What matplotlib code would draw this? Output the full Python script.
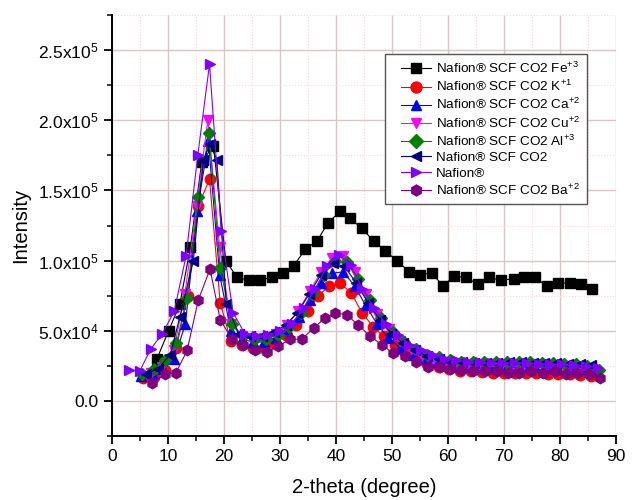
#!/usr/bin/env python3
"""XRD patterns of Nafion membranes after supercritical CO2 ion loading."""

import matplotlib
matplotlib.use("Agg")
import matplotlib.pyplot as plt
from matplotlib.lines import Line2D
from matplotlib.legend_handler import HandlerLine2D
from matplotlib.ticker import MultipleLocator, FuncFormatter

# --- data (intensity in units of 1e4) ---
x_fe = [8.0, 10.1, 12.1, 14.0, 16.0, 18.1, 20.3, 22.3, 24.4, 26.4, 28.5, 30.6,
        32.4, 34.5, 36.6, 38.6, 40.7, 42.5, 44.6, 46.7, 48.8, 50.8, 53.1, 55.0,
        57.1, 59.1, 61.1, 63.2, 65.4, 67.4, 69.4, 71.7, 73.6, 75.5, 77.6, 79.7,
        81.8, 83.7, 85.7]
y_fe = [3.0, 5.0, 6.9, 11.0, 17.0, 18.2, 10.0, 8.8, 8.6, 8.6, 8.8, 9.1,
        9.6, 10.8, 11.4, 12.7, 13.5, 13.0, 12.3, 11.4, 10.7, 10.0, 9.2, 9.0,
        9.1, 8.2, 8.9, 8.8, 8.3, 8.8, 8.6, 8.7, 8.8, 8.8, 8.2, 8.4,
        8.4, 8.3, 8.0]

x_k = [5.6, 7.5, 9.5, 11.5, 13.5, 15.4, 17.4, 19.3, 21.2, 23.2, 25.1, 27.1,
       29.0, 31.0, 32.9, 34.9, 36.8, 38.8, 40.7, 42.7, 44.6, 46.6, 48.5, 50.5,
       52.4, 54.4, 56.3, 58.3, 60.2, 62.2, 64.1, 66.1, 68.0, 70.0, 71.9, 73.9,
       75.8, 77.8, 79.7, 81.7, 83.6, 85.6]
y_k = [1.6, 1.7, 2.2, 3.8, 7.5, 13.9, 15.8, 7.0, 4.3, 4.0, 3.8, 3.8,
       4.1, 4.7, 5.4, 6.4, 7.5, 8.2, 8.4, 7.7, 6.3, 5.3, 4.6, 4.0,
       3.4, 3.0, 2.6, 2.4, 2.25, 2.15, 2.1, 2.05, 2.0, 2.0, 2.0, 2.0,
       2.0, 1.95, 1.9, 1.9, 1.85, 1.75]

x_ca = [5.1, 7.1, 9.1, 11.1, 13.1, 15.2, 17.2, 19.2, 21.2, 23.2, 25.2, 27.2,
        29.2, 31.2, 33.3, 35.3, 37.3, 39.3, 41.3, 43.3, 45.3, 47.3, 49.3, 51.4,
        53.4, 55.4, 57.4, 59.4, 61.4, 63.4, 65.5, 67.5, 69.5, 71.5, 73.5, 75.5,
        77.5, 79.6, 81.6, 83.6, 85.6]
y_ca = [1.8, 2.0, 2.3, 3.0, 5.5, 13.5, 18.5, 9.0, 5.0, 4.4, 4.2, 4.2,
        4.5, 5.1, 6.0, 7.2, 8.4, 9.1, 9.2, 8.2, 6.8, 5.5, 4.5, 3.8,
        3.3, 3.0, 2.8, 2.6, 2.5, 2.5, 2.45, 2.4, 2.4, 2.4, 2.4, 2.4,
        2.35, 2.3, 2.3, 2.3, 2.2]

x_cu = [7.0, 9.0, 11.0, 13.0, 15.1, 17.1, 19.2, 21.2, 23.2, 25.2, 27.2, 29.2,
        31.2, 33.2, 35.3, 37.3, 39.3, 41.3, 43.3, 45.3, 47.4, 49.4, 51.4, 53.4,
        55.4, 57.4, 59.5, 61.5, 63.5, 65.5, 67.5, 69.6, 71.6, 73.6, 75.6, 77.6,
        79.7, 81.7, 83.7, 85.7]
y_cu = [2.0, 2.4, 3.6, 7.6, 13.9, 20.0, 11.0, 5.5, 4.6, 4.4, 4.5, 4.8,
        5.4, 6.4, 7.8, 9.2, 10.2, 10.3, 9.2, 7.6, 6.2, 5.1, 4.3, 3.7,
        3.3, 3.0, 2.8, 2.7, 2.65, 2.6, 2.6, 2.6, 2.6, 2.6, 2.6, 2.55,
        2.5, 2.5, 2.45, 2.3]

x_al = [5.3, 7.4, 9.4, 11.5, 13.3, 15.4, 17.3, 19.3, 21.4, 23.4, 25.5, 27.5,
        29.6, 31.6, 33.7, 35.7, 37.8, 39.8, 41.9, 43.9, 46.0, 48.0, 50.1, 52.1,
        54.2, 56.2, 58.3, 60.3, 62.4, 64.4, 66.5, 68.5, 70.6, 72.6, 74.7, 76.7,
        78.8, 80.8, 82.9, 84.9, 87.0]
y_al = [1.9, 2.3, 2.9, 4.1, 7.3, 14.5, 19.1, 9.5, 5.5, 4.6, 4.4, 4.4,
        4.7, 5.3, 6.3, 7.6, 9.0, 10.0, 9.9, 8.7, 7.2, 5.9, 4.9, 4.2,
        3.7, 3.3, 3.1, 2.9, 2.8, 2.8, 2.75, 2.75, 2.8, 2.75, 2.75, 2.7,
        2.7, 2.65, 2.6, 2.5, 2.2]

x_scf = [6.0, 8.2, 10.4, 12.1, 14.5, 16.3, 17.5, 18.7, 20.4, 22.6, 24.7, 26.8,
         28.9, 31.0, 33.1, 35.2, 37.3, 39.4, 41.5, 43.6, 45.7, 47.8, 49.9, 52.0,
         54.1, 56.2, 58.3, 60.4, 62.5, 64.6, 66.7, 68.8, 70.9, 73.0, 75.1, 77.2,
         79.3, 81.4, 83.5, 85.6]
y_scf = [1.9, 2.3, 3.3, 6.0, 9.95, 17.2, 18.3, 17.2, 6.9, 4.8, 4.6, 4.6,
         4.9, 5.4, 6.3, 7.6, 9.0, 9.8, 9.6, 8.4, 7.0, 5.8, 4.8, 4.1,
         3.6, 3.2, 3.0, 2.8, 2.75, 2.7, 2.7, 2.7, 2.75, 2.75, 2.7, 2.7,
         2.7, 2.65, 2.6, 2.55]

x_naf = [3.0, 4.9, 6.9, 9.0, 11.1, 13.2, 15.3, 17.4, 19.5, 21.6, 23.7, 25.8,
         27.9, 30.0, 32.1, 34.2, 36.3, 38.4, 40.5, 42.6, 44.7, 46.8, 48.9, 51.0,
         53.1, 55.2, 57.3, 59.4, 61.5, 63.6, 65.7, 67.8, 69.9, 72.0, 74.1, 76.2,
         78.3, 80.4, 82.5, 84.6, 86.7]
y_naf = [2.2, 2.1, 3.7, 4.8, 6.4, 10.3, 17.5, 24.0, 12.1, 6.3, 4.8, 4.6,
         4.7, 5.0, 5.5, 6.6, 8.0, 9.6, 10.4, 9.7, 8.0, 6.6, 5.5, 4.7,
         4.0, 3.6, 3.3, 3.0, 2.9, 2.8, 2.75, 2.7, 2.7, 2.7, 2.7, 2.65,
         2.6, 2.6, 2.55, 2.5, 2.35]

x_ba = [7.1, 9.5, 11.4, 13.4, 15.4, 17.5, 19.3, 21.4, 23.4, 25.5, 27.6, 29.7,
        31.8, 33.9, 36.0, 38.0, 39.9, 42.0, 44.0, 46.1, 48.2, 50.2, 52.3, 54.3,
        56.5, 58.5, 60.4, 62.4, 64.5, 66.6, 68.7, 70.8, 72.7, 74.9, 77.0, 79.1,
        81.1, 83.0, 85.1, 87.1]
y_ba = [1.3, 1.9, 2.0, 3.6, 7.2, 9.4, 5.8, 4.4, 4.0, 3.6, 3.5, 3.9,
        4.4, 4.4, 5.2, 5.9, 6.3, 6.1, 5.4, 4.6, 4.0, 3.4, 3.2, 2.8,
        2.4, 2.4, 2.3, 2.2, 2.1, 2.1, 2.1, 2.0, 2.0, 2.1, 2.0, 2.1,
        1.9, 2.0, 1.95, 1.6]

labels = [
    r"Nafion® SCF CO2 Fe$^{+3}$",
    r"Nafion® SCF CO2 K$^{+1}$",
    r"Nafion® SCF CO2 Ca$^{+2}$",
    r"Nafion® SCF CO2 Cu$^{+2}$",
    r"Nafion® SCF CO2 Al$^{+3}$",
    "Nafion® SCF CO2",
    "Nafion®",
    r"Nafion® SCF CO2 Ba$^{+2}$",
]

plt.rcParams["font.family"] = ["Liberation Sans", "DejaVu Sans"]
plt.rcParams["mathtext.fontset"] = "custom"
plt.rcParams["mathtext.rm"] = "Liberation Sans"
plt.rcParams["mathtext.it"] = "Liberation Sans:italic"
plt.rcParams["mathtext.bf"] = "Liberation Sans:bold"


def main():
    fig = plt.figure(figsize=(6.37, 5.0), dpi=100)
    ax = fig.add_axes([0.176, 0.128, 0.791, 0.842])

    series = [
        (x_fe, y_fe, "black", "s"),
        (x_k, y_k, "red", "o"),
        (x_ca, y_ca, "blue", "^"),
        (x_cu, y_cu, "magenta", "v"),
        (x_al, y_al, "#008000", "D"),
        (x_scf, y_scf, "#000080", "<"),
        (x_naf, y_naf, "#8000FF", ">"),
        (x_ba, y_ba, "#800080", "h"),
    ]
    for (xs, ys, col, mk), lab in zip(series, labels):
        ms = 6.5 if mk == "D" else 7.5
        ax.plot(xs, [v * 1e4 for v in ys], color=col, lw=0.8, marker=mk,
                ms=ms, mec=col, mfc=col, label=lab)

    ax.set_xlim(0, 90)
    ax.set_ylim(-25000, 275000)
    ax.xaxis.set_major_locator(MultipleLocator(10))
    ax.xaxis.set_minor_locator(MultipleLocator(5))
    ax.yaxis.set_major_locator(MultipleLocator(50000))
    ax.yaxis.set_minor_locator(MultipleLocator(25000))

    def sci(v, pos):
        if abs(v) < 1:
            return "0.0"
        exp = 0
        m = v
        while abs(m) >= 10:
            m /= 10
            exp += 1
        return rf"{m:.1f}x10$^{{{exp}}}$"

    ax.yaxis.set_major_formatter(FuncFormatter(sci))

    ax.grid(True, which="major", color="#d8c6c6", lw=1.0)
    ax.grid(True, which="minor", color="#f0dada", lw=0.8, linestyle=":")
    ax.set_axisbelow(True)

    for s in ("top", "right"):
        ax.spines[s].set_visible(False)
    for s in ("left", "bottom"):
        ax.spines[s].set_linewidth(1.4)
    ax.tick_params(which="major", direction="out", length=6, width=1.3,
                   labelsize=12.5, colors="black")
    ax.tick_params(which="minor", direction="out", length=3.5, width=1.1)

    ax.set_xlabel("2-theta (degree)", fontsize=14.5, labelpad=10)
    ax.set_ylabel("Intensity", fontsize=14.5, labelpad=6)

    # legend handle starts a bit in from the frame, like Origin draws it
    leg = ax.legend(loc="upper right", bbox_to_anchor=(0.9425, 0.907),
                    fontsize=9.7, frameon=True, fancybox=False,
                    edgecolor="#555555", framealpha=1, borderpad=0.5,
                    handlelength=2.9, labelspacing=0.22, handletextpad=0.36,
                    borderaxespad=0.0, markerscale=1.05,
                    handler_map={Line2D: HandlerLine2D(xpad=0.7)})
    leg.get_frame().set_linewidth(1.0)

    fig.savefig("out.png", dpi=100)


if __name__ == "__main__":
    main()
